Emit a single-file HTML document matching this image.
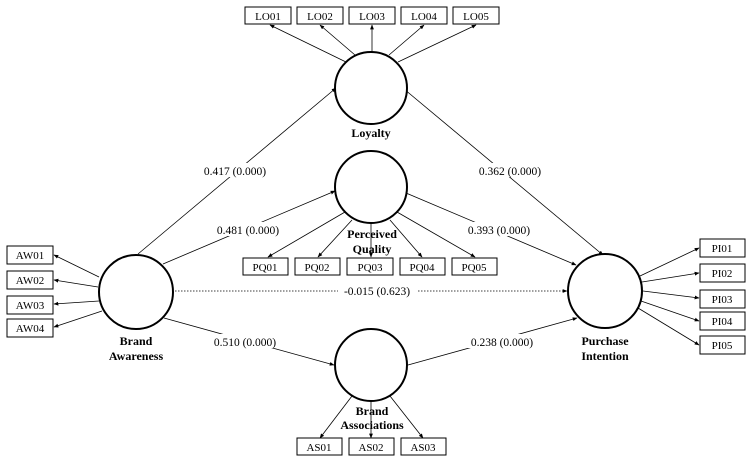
<!DOCTYPE html>
<html><head><meta charset="utf-8"><style>
html,body{margin:0;padding:0;background:#fff;}
svg{display:block;}
text{font-family:"Liberation Serif",serif;fill:#000;}
.b{font-size:11px;}
.l{font-size:11.5px;}
.t{font-size:12px;font-weight:bold;}
</style></head><body>
<svg width="750" height="460" viewBox="0 0 750 460" xmlns="http://www.w3.org/2000/svg">
<defs><marker id="a" viewBox="0 0 10 10" refX="9" refY="5" markerWidth="6" markerHeight="6" orient="auto"><path d="M0,1 L10,5 L0,9 z" fill="#000"/></marker></defs>
<g stroke="#000" stroke-width="0.8" fill="none" marker-end="url(#a)">
<!-- loyalty indicators -->
<line x1="346" y1="62" x2="270" y2="25"/>
<line x1="355" y1="55" x2="320" y2="25"/>
<line x1="372" y1="52" x2="372" y2="25"/>
<line x1="389" y1="55" x2="424" y2="25"/>
<line x1="398" y1="62" x2="476" y2="25"/>
<!-- PQ indicators -->
<line x1="345" y1="212" x2="268" y2="257"/>
<line x1="352" y1="220" x2="318" y2="257"/>
<line x1="371" y1="223" x2="371" y2="257"/>
<line x1="390" y1="220" x2="422" y2="257"/>
<line x1="397" y1="212" x2="475" y2="257"/>
<!-- AS indicators -->
<line x1="352" y1="396" x2="320" y2="438"/>
<line x1="371" y1="401" x2="371" y2="438"/>
<line x1="390" y1="396" x2="423" y2="438"/>
<!-- AW -->
<line x1="99" y1="277" x2="54" y2="255"/>
<line x1="98" y1="287" x2="54" y2="280"/>
<line x1="99" y1="301" x2="54" y2="304"/>
<line x1="102" y1="311" x2="54" y2="327"/>
<!-- PI -->
<line x1="640" y1="276" x2="699" y2="248"/>
<line x1="642" y1="282" x2="699" y2="273"/>
<line x1="643" y1="291" x2="699" y2="298"/>
<line x1="641" y1="301" x2="699" y2="321"/>
<line x1="638" y1="308" x2="699" y2="345"/>
<!-- structural -->
<line x1="138" y1="254" x2="336" y2="88"/>
<line x1="404" y1="89" x2="603" y2="255"/>
<line x1="163" y1="264" x2="335" y2="191"/>
<line x1="406" y1="193" x2="576" y2="265"/>
<line x1="164" y1="318" x2="334" y2="365"/>
<line x1="408" y1="365" x2="577" y2="318"/>
<line x1="175" y1="291" x2="567" y2="291" stroke-dasharray="1.5,1.5"/>
</g>
<g stroke="#000" stroke-width="2" fill="#fff">
<circle cx="371" cy="88" r="36"/>
<circle cx="371" cy="187" r="36"/>
<circle cx="371" cy="365" r="36"/>
<circle cx="136" cy="292" r="37"/>
<circle cx="605" cy="291" r="37"/>
</g>
<g stroke="#000" stroke-width="1" fill="#fff">
<rect x="245" y="7" width="46" height="17"/><rect x="297" y="7" width="46" height="17"/><rect x="349" y="7" width="46" height="17"/><rect x="401" y="7" width="46" height="17"/><rect x="453" y="7" width="46" height="17"/>
<rect x="243" y="258" width="45" height="17"/><rect x="295" y="258" width="45" height="17"/><rect x="347" y="258" width="46" height="17"/><rect x="400" y="258" width="45" height="17"/><rect x="452" y="258" width="45" height="17"/>
<rect x="297" y="438" width="45" height="17"/><rect x="349" y="438" width="45" height="17"/><rect x="401" y="438" width="45" height="17"/>
<rect x="7" y="246" width="46" height="18"/><rect x="7" y="271" width="46" height="18"/><rect x="7" y="296" width="46" height="18"/><rect x="7" y="319" width="46" height="18"/>
<rect x="700" y="239" width="45" height="18"/><rect x="700" y="264" width="45" height="18"/><rect x="700" y="290" width="45" height="18"/><rect x="700" y="312" width="45" height="18"/><rect x="700" y="336" width="45" height="18"/>
</g>
<g class="b" text-anchor="middle">
<text x="268" y="20">LO01</text><text x="320" y="20">LO02</text><text x="372" y="20">LO03</text><text x="424" y="20">LO04</text><text x="476" y="20">LO05</text>
<text x="265" y="271">PQ01</text><text x="317" y="271">PQ02</text><text x="370" y="271">PQ03</text><text x="422" y="271">PQ04</text><text x="474" y="271">PQ05</text>
<text x="319" y="451">AS01</text><text x="371" y="451">AS02</text><text x="423" y="451">AS03</text>
<text x="30" y="259">AW01</text><text x="30" y="284">AW02</text><text x="30" y="309">AW03</text><text x="30" y="332">AW04</text>
<text x="722" y="252">PI01</text><text x="722" y="277">PI02</text><text x="722" y="303">PI03</text><text x="722" y="325">PI04</text><text x="722" y="349">PI05</text>
</g>
<g class="l" text-anchor="middle">
<rect x="200" y="163" width="72" height="14" fill="#fff"/><text x="235" y="175">0.417 (0.000)</text>
<rect x="474" y="163" width="72" height="14" fill="#fff"/><text x="510" y="175">0.362 (0.000)</text>
<rect x="212" y="222" width="72" height="14" fill="#fff"/><text x="248" y="234">0.481 (0.000)</text>
<rect x="463" y="222" width="72" height="14" fill="#fff"/><text x="499" y="234">0.393 (0.000)</text>
<rect x="338" y="283" width="80" height="14" fill="#fff"/><text x="377" y="295">-0.015 (0.623)</text>
<rect x="209" y="334" width="72" height="14" fill="#fff"/><text x="245" y="346">0.510 (0.000)</text>
<rect x="466" y="334" width="72" height="14" fill="#fff"/><text x="502" y="346">0.238 (0.000)</text>
</g>
<g class="t" text-anchor="middle">
<text x="371" y="137">Loyalty</text>
<text x="372" y="238">Perceived</text><text x="372" y="253">Quality</text>
<text x="372" y="415">Brand</text><text x="372" y="429">Associations</text>
<text x="136" y="345">Brand</text><text x="136" y="360">Awareness</text>
<text x="605" y="345">Purchase</text><text x="605" y="360">Intention</text>
</g>
</svg>
</body></html>
